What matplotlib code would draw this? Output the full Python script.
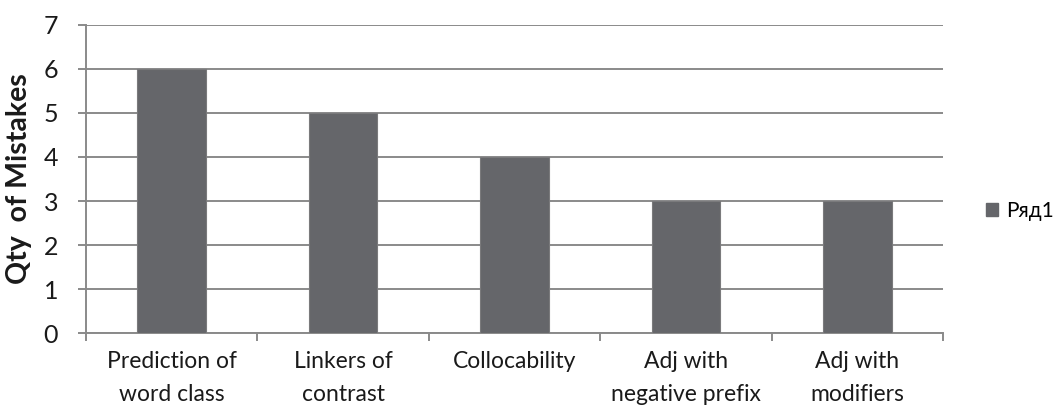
import matplotlib
matplotlib.use("Agg")
import matplotlib.pyplot as plt
from matplotlib.patches import Patch

categories = ["Prediction of\nword class", "Linkers of\ncontrast", "Collocability",
              "Adj with\nnegative prefix", "Adj with\nmodifiers"]
values = [6, 5, 4, 3, 3]
series_name = "Ряд1"
y_ticks = [0, 1, 2, 3, 4, 5, 6, 7]

plt.rcParams['font.family'] = ['Lato', 'DejaVu Sans']

fig = plt.figure(figsize=(10.59, 4.09), dpi=100)
ax = fig.add_axes([0.0812, 0.1858, 0.8093, 0.7531])

grid_color = "#8a8a8a"
bar_color = "#65666a"
text_color = "#1a1a1a"

x = list(range(len(categories)))
ax.bar(x, values, width=0.4, color=bar_color, edgecolor="#7a7a7c", linewidth=0.8, zorder=3)

ax.set_xlim(-0.5, len(categories) - 0.5)
ax.set_ylim(0, 7)
ax.set_yticks(y_ticks)
ax.yaxis.grid(True, color=grid_color, linewidth=1.4, zorder=0)
ax.set_axisbelow(True)

for s in ["top", "right"]:
    ax.spines[s].set_visible(False)
for s in ["left", "bottom"]:
    ax.spines[s].set_color(grid_color)
    ax.spines[s].set_linewidth(1.4)

ax.tick_params(axis="y", length=6, width=1.4, color=grid_color, labelsize=18, pad=14, labelcolor=text_color)
ax.set_xticks(x)
ax.set_xticklabels(categories, fontsize=16.5, color=text_color, linespacing=1.7)
ax.tick_params(axis="x", which="major", length=0, pad=13)
ax.set_xticks([i - 0.5 for i in range(len(categories) + 1)], minor=True)
ax.tick_params(axis="x", which="minor", length=6, width=1.4, color=grid_color)

ax.set_ylabel("Qty  of Mistakes", fontsize=20.5, fontweight="bold", color=text_color, labelpad=8)

handle = Patch(facecolor=bar_color, edgecolor=bar_color)
fig.legend([handle], [series_name], loc="center left", bbox_to_anchor=(0.931, 0.485),
           frameon=False, fontsize=15, handlelength=0.6, handleheight=0.6, handletextpad=0.35,
           borderpad=0, borderaxespad=0)

fig.savefig("out.png", dpi=100)
